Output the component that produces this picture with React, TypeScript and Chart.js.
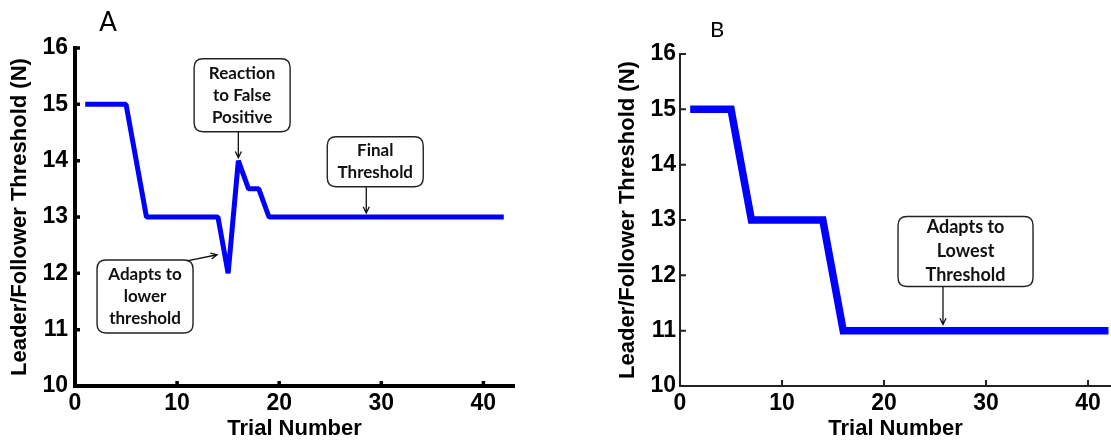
import React, { useEffect, useRef } from "react";
import { Chart, registerables } from "chart.js";

Chart.register(...registerables);

// ---- Data: panel A ----
const trialsA = [1, 5, 7, 14, 15, 16, 17, 18, 19, 42];
const thresholdA = [15, 15, 13, 13, 12, 14, 13.5, 13.5, 13, 13];

// ---- Data: panel B ----
const trialsB = [1, 5, 7, 14, 16, 42];
const thresholdB = [15, 15, 13, 13, 11, 11];

// ---- Axes ----
const xTickValues = [0, 10, 20, 30, 40];
const yTickValues = [10, 11, 12, 13, 14, 15, 16];
const xTitle = "Trial Number";
const yTitle = "Leader/Follower Threshold (N)";

// ---- Callouts (anchors in data units) ----
const calloutsA = [
  { lines: ["Reaction", "to False", "Positive"], cx: 16.37, cy: 15.16, w: 96, h: 73, fromX: 16, fromY: 14.51, toX: 16, toY: 14.05 },
  { lines: ["Final", "Threshold"], cx: 29.41, cy: 13.98, w: 96, h: 50, fromX: 28.53, fromY: 13.53, toX: 28.53, toY: 13.07 },
  { lines: ["Adapts to", "lower", "threshold"], cx: 6.86, cy: 11.59, w: 96, h: 73, fromX: 10.98, fromY: 12.22, toX: 13.92, toY: 12.33 },
];
const calloutsB = [
  { lines: ["Adapts to", "Lowest", "Threshold"], cx: 27.99, cy: 12.43, w: 135, h: 70, fromX: 25.78, fromY: 11.8, toX: 25.78, toY: 11.11 },
];

const TICK_FONT = { family: "'Liberation Sans', Arial, sans-serif", size: 23, weight: "bold" as const };
const TITLE_FONT = { family: "'Liberation Sans', Arial, sans-serif", size: 22, weight: "bold" as const };

function roundRectPath(ctx: CanvasRenderingContext2D, x: number, y: number, w: number, h: number, r: number) {
  ctx.beginPath();
  ctx.moveTo(x + r, y);
  ctx.lineTo(x + w - r, y);
  ctx.quadraticCurveTo(x + w, y, x + w, y + r);
  ctx.lineTo(x + w, y + h - r);
  ctx.quadraticCurveTo(x + w, y + h, x + w - r, y + h);
  ctx.lineTo(x + r, y + h);
  ctx.quadraticCurveTo(x, y + h, x, y + h - r);
  ctx.lineTo(x, y + r);
  ctx.quadraticCurveTo(x, y, x + r, y);
  ctx.closePath();
}

type PanelCfg = {
  trials: number[];
  values: number[];
  lineWidth: number;
  join: CanvasLineJoin;
  axisColor: string;
  axisWidth: number;
  tickLen: number;
  tickWidth: number;
  yScaleWidth: number;
  xScaleHeight: number;
  padTop: number;
  padRight: number;
  xMax: number;
  yTickPad: number;
  yTitlePad: number;
  callouts: typeof calloutsA;
  calloutFont: number;
  calloutLineH: number;
  label: string;
  labelX: number;
  labelY: number;
  labelSize: number;
};

function makeDecor(p: PanelCfg) {
  return {
    id: "decor",
    beforeDatasetsDraw(chart: any) {
      const { ctx, chartArea, scales } = chart;
      ctx.save();
      ctx.strokeStyle = p.axisColor;
      ctx.lineWidth = p.tickWidth;
      ctx.beginPath();
      for (const tk of scales.x.ticks) {
        const px = scales.x.getPixelForValue(tk.value);
        ctx.moveTo(px, chartArea.bottom);
        ctx.lineTo(px, chartArea.bottom - p.tickLen);
      }
      for (const tk of scales.y.ticks) {
        const py = scales.y.getPixelForValue(tk.value);
        ctx.moveTo(chartArea.left, py);
        ctx.lineTo(chartArea.left + p.tickLen, py);
      }
      ctx.stroke();
      ctx.restore();
    },
    afterDatasetsDraw(chart: any) {
      const { ctx, scales } = chart;
      const xs = scales.x;
      const ys = scales.y;
      ctx.save();
      for (const c of p.callouts) {
        const cx = xs.getPixelForValue(c.cx);
        const cy = ys.getPixelForValue(c.cy);
        const bx = cx - c.w / 2;
        const by = cy - c.h / 2;
        roundRectPath(ctx, bx, by, c.w, c.h, 9);
        ctx.fillStyle = "#ffffff";
        ctx.fill();
        ctx.lineWidth = 1.4;
        ctx.strokeStyle = "#222222";
        ctx.stroke();
        ctx.fillStyle = "#111111";
        ctx.font = `bold ${p.calloutFont}px Lato, 'Open Sans', sans-serif`;
        ctx.textAlign = "center";
        ctx.textBaseline = "middle";
        const n = c.lines.length;
        c.lines.forEach((ln, i) => {
          ctx.fillText(ln, cx, cy + (i - (n - 1) / 2) * p.calloutLineH);
        });
        // arrow
        const fx = xs.getPixelForValue(c.fromX);
        const fy = ys.getPixelForValue(c.fromY);
        const tx = xs.getPixelForValue(c.toX);
        const ty = ys.getPixelForValue(c.toY);
        ctx.strokeStyle = "#111111";
        ctx.lineWidth = 1.3;
        ctx.beginPath();
        ctx.moveTo(fx, fy);
        ctx.lineTo(tx, ty);
        const ang = Math.atan2(ty - fy, tx - fx);
        const hl = 7;
        const ha = 0.45;
        ctx.moveTo(tx - hl * Math.cos(ang - ha), ty - hl * Math.sin(ang - ha));
        ctx.lineTo(tx, ty);
        ctx.lineTo(tx - hl * Math.cos(ang + ha), ty - hl * Math.sin(ang + ha));
        ctx.stroke();
      }
      // panel label
      ctx.fillStyle = "#000000";
      ctx.font = `${p.labelSize}px Lato, 'Open Sans', sans-serif`;
      ctx.textAlign = "center";
      ctx.textBaseline = "middle";
      ctx.fillText(p.label, p.labelX, p.labelY);
      ctx.restore();
    },
  };
}

function makeConfig(p: PanelCfg): any {
  return {
    type: "line",
    data: {
      datasets: [
        {
          data: p.trials.map((t, i) => ({ x: t, y: p.values[i] })),
          borderColor: "#0000ff",
          borderWidth: p.lineWidth,
          borderJoinStyle: p.join,
          pointRadius: 0,
          tension: 0,
          fill: false,
        },
      ],
    },
    options: {
      responsive: false,
      animation: false,
      devicePixelRatio: 1,
      layout: { padding: { top: p.padTop, right: p.padRight, left: 0, bottom: 0 } },
      plugins: { legend: { display: false }, tooltip: { enabled: false }, title: { display: false } },
      scales: {
        x: {
          type: "linear",
          min: 0,
          max: p.xMax,
          afterBuildTicks: (s: any) => {
            s.ticks = xTickValues.map((v) => ({ value: v }));
          },
          afterFit: (s: any) => {
            s.height = p.xScaleHeight;
          },
          grid: { display: false, drawTicks: false },
          border: { display: true, color: p.axisColor, width: p.axisWidth },
          ticks: { color: "#000000", font: TICK_FONT, padding: 4, maxRotation: 0 },
          title: { display: true, text: xTitle, color: "#000000", font: TITLE_FONT, padding: { top: 0, bottom: 0 } },
        },
        y: {
          type: "linear",
          min: 10,
          max: 16,
          afterBuildTicks: (s: any) => {
            s.ticks = yTickValues.map((v) => ({ value: v }));
          },
          afterFit: (s: any) => {
            s.width = p.yScaleWidth;
          },
          grid: { display: false, drawTicks: false },
          border: { display: true, color: p.axisColor, width: p.axisWidth },
          ticks: { color: "#000000", font: TICK_FONT, padding: p.yTickPad },
          title: { display: true, text: yTitle, color: "#000000", font: TITLE_FONT, padding: { top: p.yTitlePad, bottom: 0 } },
        },
      },
    },
    plugins: [makeDecor(p)],
  };
}

const panelA: PanelCfg = {
  trials: trialsA,
  values: thresholdA,
  lineWidth: 5,
  join: "bevel",
  axisColor: "#000000",
  axisWidth: 4,
  tickLen: 5,
  tickWidth: 3.5,
  yScaleWidth: 75,
  xScaleHeight: 56,
  padTop: 48,
  padRight: 26,
  xMax: 43,
  yTickPad: 7,
  yTitlePad: 7,
  callouts: calloutsA,
  calloutFont: 17,
  calloutLineH: 22,
  label: "A",
  labelX: 108,
  labelY: 23,
  labelSize: 26,
};

const panelB: PanelCfg = {
  trials: trialsB,
  values: thresholdB,
  lineWidth: 7.5,
  join: "miter",
  axisColor: "#222222",
  axisWidth: 2,
  tickLen: 6,
  tickWidth: 2,
  yScaleWidth: 80,
  xScaleHeight: 56,
  padTop: 54,
  padRight: 0,
  xMax: 42.25,
  yTickPad: 4,
  yTitlePad: 15,
  callouts: calloutsB,
  calloutFont: 18,
  calloutLineH: 24,
  label: "B",
  labelX: 117,
  labelY: 30,
  labelSize: 22,
};

function Panel({ cfg, left, width }: { cfg: PanelCfg; left: number; width: number }) {
  const ref = useRef<HTMLCanvasElement>(null);
  useEffect(() => {
    const chart = new Chart(ref.current as HTMLCanvasElement, makeConfig(cfg));
    return () => chart.destroy();
  }, [cfg]);
  return (
    <canvas
      ref={ref}
      width={width}
      height={442}
      style={{ position: "absolute", left, top: 0, width, height: 442 }}
    />
  );
}

export default function App() {
  return (
    <div style={{ position: "absolute", left: 0, top: 0, width: 1111, height: 442, background: "#ffffff", overflow: "hidden" }}>
      <Panel cfg={panelA} left={0} width={540} />
      <Panel cfg={panelB} left={600} width={511} />
    </div>
  );
}
